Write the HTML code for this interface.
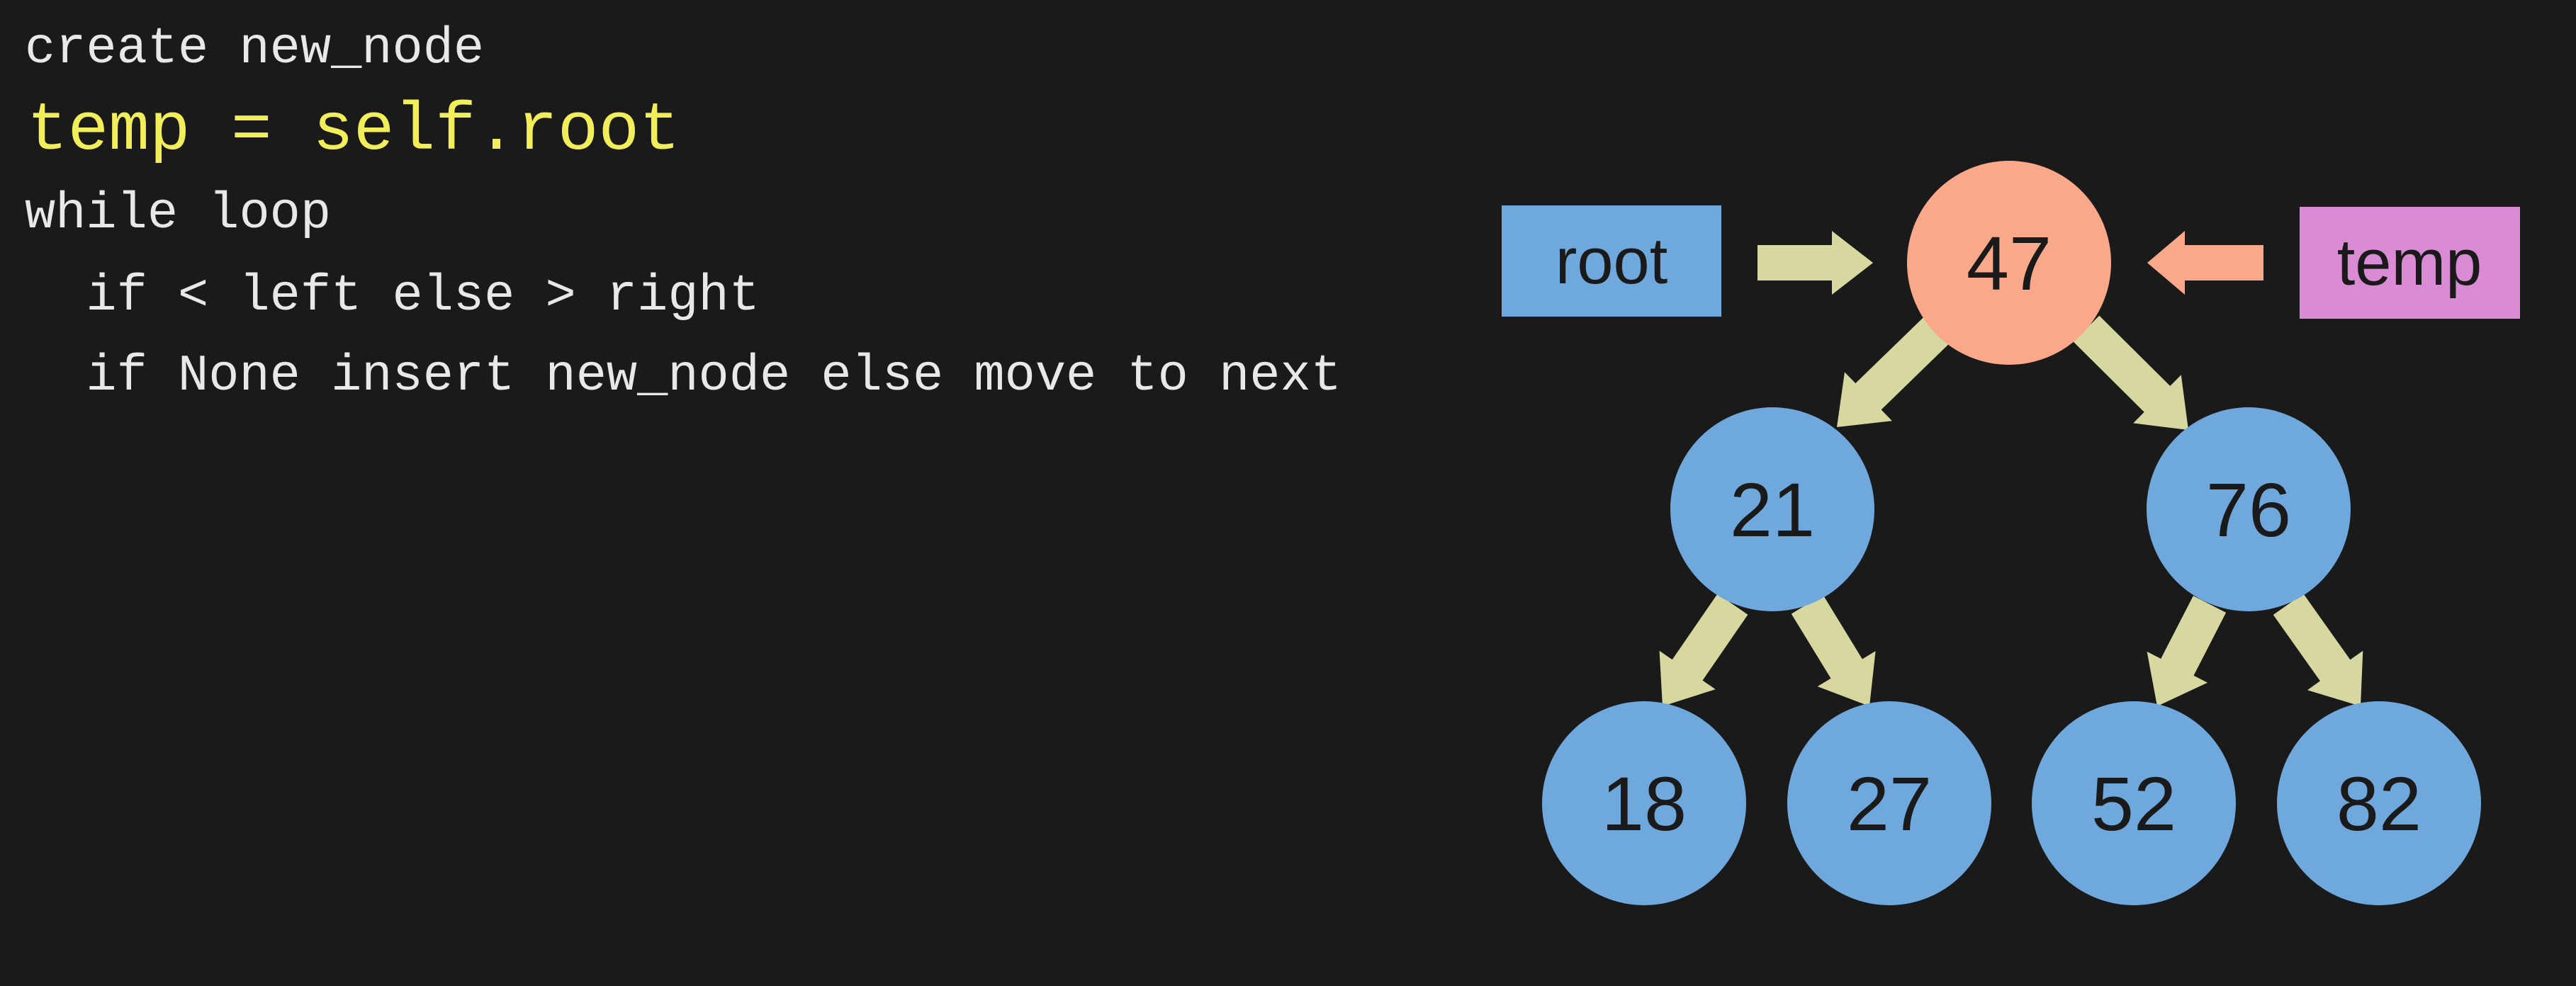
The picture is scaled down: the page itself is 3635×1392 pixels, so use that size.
<!DOCTYPE html>
<html><head><meta charset="utf-8"><style>
html,body{margin:0;padding:0;background:#1a1a1a;}
body{width:3635px;height:1392px;overflow:hidden;position:relative;}
.t{position:absolute;font-family:"Liberation Mono","DejaVu Sans Mono",monospace;color:#e8e8e8;white-space:pre;line-height:1;}
</style></head><body>
<div class="t" style="left:35px;top:33px;font-size:72px;">create new_node</div>
<div class="t" style="left:38px;top:137px;font-size:96px;color:#f2ee5a;">temp = self.root</div>
<div class="t" style="left:35px;top:266px;font-size:72px;">while loop</div>
<div class="t" style="left:35px;top:382px;font-size:72px;">  if &lt; left else &gt; right</div>
<div class="t" style="left:35px;top:495px;font-size:72px;">  if None insert new_node else move to next</div>
<svg id="s" width="3635" height="1392" style="position:absolute;left:0;top:0" font-family="Liberation Sans, sans-serif">
<rect x="2119" y="290" width="310" height="157" fill="#6fa8dc"/>
<text x="2274" y="400" font-size="92" text-anchor="middle" fill="#1a1a1a">root</text>
<rect x="3245" y="292" width="311" height="158" fill="#d98bd3"/>
<text x="3400" y="402" font-size="92" text-anchor="middle" fill="#1a1a1a">temp</text>
<g id="arr"></g>
<circle cx="2835" cy="371" r="144" fill="#f9a98a"/>
<circle cx="2501" cy="719" r="144" fill="#6fa8dc"/>
<circle cx="3173" cy="719" r="144" fill="#6fa8dc"/>
<circle cx="2320" cy="1134" r="144" fill="#6fa8dc"/>
<circle cx="2666" cy="1134" r="144" fill="#6fa8dc"/>
<circle cx="3011" cy="1134" r="144" fill="#6fa8dc"/>
<circle cx="3357" cy="1134" r="144" fill="#6fa8dc"/>
<g font-size="108" text-anchor="middle" fill="#1a1a1a">
<text x="2835" y="409">47</text>
<text x="2501" y="757">21</text>
<text x="3173" y="757">76</text>
<text x="2320" y="1172">18</text>
<text x="2666" y="1172">27</text>
<text x="3011" y="1172">52</text>
<text x="3357" y="1172">82</text>
</g>
</svg>
<script>
function arrow(x1,y1,x2,y2,col,sw,hw,hl){
 var dx=x2-x1,dy=y2-y1,L=Math.hypot(dx,dy),ux=dx/L,uy=dy/L,nx=-uy,ny=ux;
 var bx=x2-ux*hl,by=y2-uy*hl;
 var p=[[x1+nx*sw/2,y1+ny*sw/2],[bx+nx*sw/2,by+ny*sw/2],[bx+nx*hw/2,by+ny*hw/2],[x2,y2],
 [bx-nx*hw/2,by-ny*hw/2],[bx-nx*sw/2,by-ny*sw/2],[x1-nx*sw/2,y1-ny*sw/2]];
 var e=document.createElementNS("http://www.w3.org/2000/svg","polygon");
 e.setAttribute("points",p.map(function(q){return q[0].toFixed(1)+","+q[1].toFixed(1)}).join(" "));
 e.setAttribute("fill",col);document.getElementById("arr").appendChild(e);
}
var g="#d6d8a0";
arrow(2480,371,2643,371,g,50,90,58);
arrow(3194,371,3030,371,"#f9a98a",50,90,53);
arrow(2735,464,2592,603,g,52,96,62);
arrow(2944,464,3088,607,g,52,96,62);
arrow(2445,853,2346,997,g,52,96,62);
arrow(2550,853,2638,997,g,52,96,62);
arrow(3118,853,3044,997,g,52,96,62);
arrow(3229,853,3331,997,g,52,96,62);
</script>
</body></html>
